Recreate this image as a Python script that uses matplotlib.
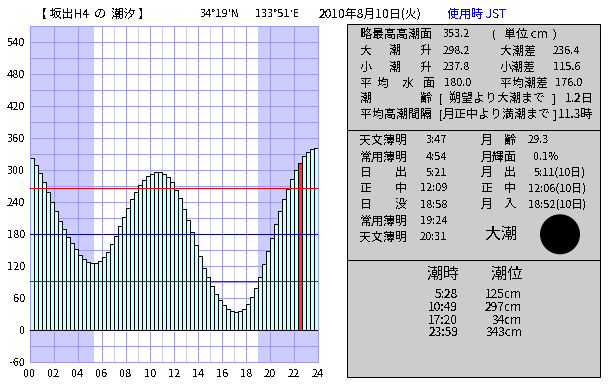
import matplotlib
matplotlib.use('Agg')
import matplotlib.pyplot as plt
from matplotlib.patches import Circle, Rectangle

plt.rcParams['font.family'] = ['Noto Sans CJK JP', 'DejaVu Sans']
plt.rcParams['text.antialiased'] = False

PX = 0.72  # points per pixel at dpi 100

levels = [322, 309, 294, 277, 259, 240, 223, 204, 189, 174, 163, 152,
          141, 133, 128, 126, 126, 129, 137, 146, 161, 176, 195, 212,
          229, 246, 259, 272, 281, 289, 293, 296, 296, 293, 287, 277,
          262, 247, 227, 206, 184, 159, 139, 116, 99, 82, 67, 56,
          47, 39, 36, 34, 36, 39, 49, 62, 79, 99, 124, 148,
          172, 199, 223, 246, 264, 283, 300, 313, 326, 334, 339, 341]
step_hours = 1 / 3
current_index = 67
sunrise = 5 + 21 / 60
sunset = 18 + 58 / 60
high_line = 266
mean_line = 180
low_line = 92

y_ticks = list(range(-60, 541, 60))
x_ticks = list(range(0, 25, 2))
x_labels = [f'{h:02d}' for h in x_ticks]

header = [(35, '【 坂出H4  の  潮汐 】', 'black', 12),
          (200, "34°19'N", 'black', 11),
          (255, "133°51'E", 'black', 11),
          (319, '2010年8月10日(火)', 'black', 12),
          (447, '使用時 JST', '#0000FF', 12)]

summary = [
    (34.3, [(360, '略最高高潮面', 12), (443, '353.2', 11), (492, '(', 11), (504, '単位 cm', 12), (553, ')', 11)]),
    (50.7, [(360, '大', 12), (389, '潮', 12), (420, '升', 12), (443, '298.2', 11), (500, '大潮差', 12), (553, '236.4', 11)]),
    (67.0, [(360, '小', 12), (389, '潮', 12), (420, '升', 12), (443, '237.8', 11), (500, '小潮差', 12), (553, '115.6', 11)]),
    (83.0, [(360, '平', 12), (377, '均', 12), (402, '水', 12), (423, '面', 12), (444, '180.0', 11), (500, '平均潮差', 12), (555, '176.0', 11)]),
    (98.7, [(360, '潮', 12), (420, '齢', 12), (439, '[', 11), (449, '朔望より大潮まで', 12), (552, ']', 11), (565, '1.2日', 12)]),
    (114.7, [(360, '平均高潮間隔', 12), (439, '[', 11), (443, '月正中より満潮まで', 12), (553, ']', 11), (558, '11.3時', 12)]),
]

almanac = [
    (140.3, [(360, '天文薄明', 12), (426, '3:47', 11), (481, '月', 12), (504, '齢', 12), (528, '29.3', 11)]),
    (157.0, [(360, '常用薄明', 12), (426, '4:54', 11), (481, '月輝面', 12), (534, '0.1%', 11)]),
    (172.7, [(360, '日', 12), (395, '出', 12), (426, '5:21', 11), (481, '月', 12), (504, '出', 12), (534, '5:11(10日)', 11)]),
    (188.3, [(360, '正', 12), (395, '中', 12), (420, '12:09', 11), (481, '正', 12), (504, '中', 12), (528, '12:06(10日)', 11)]),
    (204.7, [(360, '日', 12), (395, '没', 12), (420, '18:58', 11), (481, '月', 12), (504, '入', 12), (528, '18:52(10日)', 11)]),
    (221.0, [(360, '常用薄明', 12), (420, '19:24', 11)]),
    (237.0, [(360, '天文薄明', 12), (420, '20:31', 11)]),
]
tide_name = '大潮'
tide_times = ['5:28', '10:49', '17:20', '23:59']
tide_heights = ['125cm', '297cm', '34cm', '343cm']

fig = plt.figure(figsize=(6.1, 3.85), dpi=100, facecolor='white')
W, H = 610, 385


def axes_rect(left, top, right, bottom):
    return [left / W, 1 - bottom / H, (right - left) / W, (bottom - top) / H]


ax = fig.add_axes(axes_rect(30, 26, 318, 362))
ax.set_xlim(0, 24)
ax.set_ylim(-60, 570)
ax.set_axisbelow(True)
ax.axvspan(0, sunrise, color='#CCCCFF', lw=0, zorder=0)
ax.axvspan(sunset, 24, color='#CCCCFF', lw=0, zorder=0)
ax.set_xticks(x_ticks)
ax.set_xticklabels(x_labels, fontsize=11 * PX)
ax.set_xticks(range(1, 24, 2), minor=True)
ax.set_yticks(y_ticks)
ax.set_yticklabels([str(v) for v in y_ticks], fontsize=11 * PX)
ax.set_yticks(range(-30, 571, 60), minor=True)
ax.tick_params(which='both', length=0)
ax.tick_params(axis='x', pad=5)
ax.tick_params(axis='y', pad=3.5)
ax.grid(which='major', color='#9999FF', lw=1 * PX)
ax.grid(which='minor', axis='y', color='#9999FF', lw=1 * PX)
ax.grid(which='minor', axis='x', color='#CCCCFF', lw=1 * PX)
for s in ax.spines.values():
    s.set_color('#9999FF')
    s.set_linewidth(1 * PX)

lefts = [i * step_hours for i in range(len(levels))]
colors = ['#FF3333' if i == current_index else '#CCFFFF' for i in range(len(levels))]
ax.bar(lefts, levels, width=step_hours, align='edge', color=colors,
       edgecolor='black', linewidth=1 * PX, zorder=2)
ax.axhline(0, color='black', lw=1 * PX, zorder=3)
ax.axhline(high_line, color='#FF0000', lw=1 * PX, zorder=4)
ax.axhline(mean_line, color='#0000AA', lw=1 * PX, zorder=4)
ax.axhline(low_line, color='#CC0000', lw=1 * PX, zorder=4)

ov = fig.add_axes([0, 0, 1, 1], zorder=5)
ov.set_xlim(0, W)
ov.set_ylim(H, 0)
ov.axis('off')
ov.patch.set_alpha(0)

ov.add_patch(Rectangle((347, 24), 253, 353, fc='#CCCCCC', ec='black', lw=1 * PX))
ov.plot([347, 600], [130, 130], color='black', lw=1 * PX)
ov.plot([347, 600], [260, 260], color='black', lw=1 * PX)

for x, s, c, size in header:
    ov.text(x, 14, s, color=c, fontsize=size * PX, va='center', ha='left')
for y, items in summary + almanac:
    for x, s, size in items:
        ov.text(x, y, s, fontsize=size * PX, va='center', ha='left')

ov.text(501, 234, tide_name, fontsize=16 * PX, va='center', ha='center')
ov.add_patch(Circle((560, 234.3), 20, fc='black', ec='none'))

ov.text(443, 274, '潮時', fontsize=16 * PX, va='center', ha='center')
ov.text(507, 274, '潮位', fontsize=16 * PX, va='center', ha='center')
for y, t, h in zip([295, 307.7, 320, 333], tide_times, tide_heights):
    ov.text(458, y, t, fontsize=12 * PX, va='center', ha='right')
    ov.text(522, y, h, fontsize=12 * PX, va='center', ha='right')

fig.savefig('out.png', dpi=100)
